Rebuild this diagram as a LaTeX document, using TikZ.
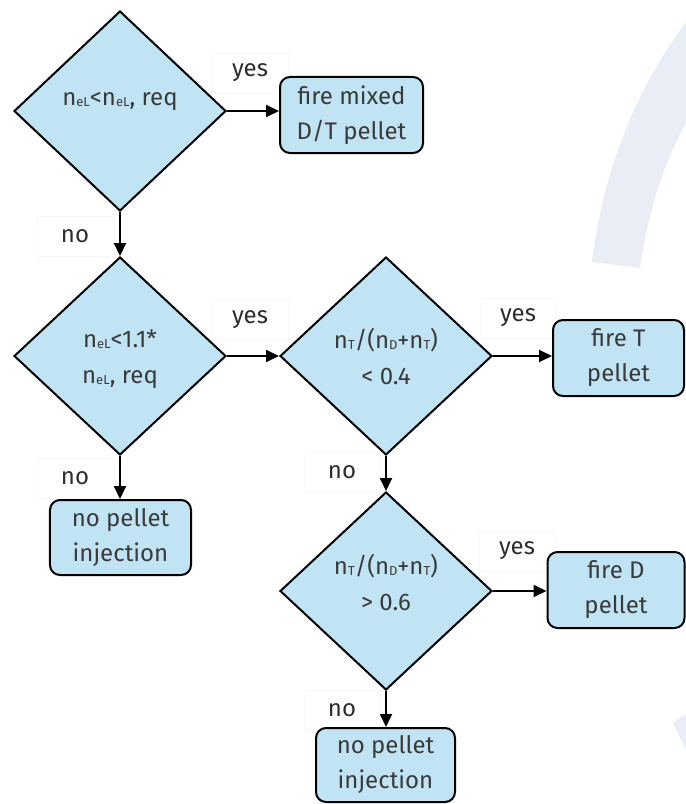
\documentclass[tikz,border=0pt]{standalone}
\usepackage{fontspec}
\setmainfont{Fira Sans}
\usetikzlibrary{shapes.geometric,arrows.meta,calc}
\definecolor{boxfill}{RGB}{193,228,245}
\definecolor{txt}{RGB}{58,58,58}
\definecolor{lbltxt}{RGB}{45,45,45}
\definecolor{wmark}{RGB}{233,237,246}
\definecolor{lblframe}{RGB}{248,248,248}
% small subscript letters sitting on the baseline
\newcommand{\subl}[1]{\raisebox{-1bp}{\fontsize{13bp}{13bp}\selectfont #1}}
\tikzset{
  decision/.style={shape=diamond, draw=black, fill=boxfill, line width=2bp,
    inner sep=0pt, minimum width=212bp, minimum height=198bp},
  dtext/.style={text=txt, align=center, font=\fontsize{24bp}{36bp}\selectfont, inner sep=0pt},
  action/.style={draw=black, fill=boxfill, line width=2bp, rounded corners=10bp,
    align=center, text=txt, font=\fontsize{24bp}{35bp}\selectfont, inner sep=0pt},
  lbl/.style={text=lbltxt, font=\fontsize{24bp}{26bp}\selectfont, draw=lblframe,
    line width=0.8bp, minimum width=76bp, minimum height=40bp, inner sep=0pt},
  flow/.style={draw=black, line width=2bp, -{Triangle[length=13bp,width=12bp]}}
}
\begin{document}
\begin{tikzpicture}[x=1bp,y=-1bp]
\useasboundingbox (0,0) rectangle (686,804);
% faint background shapes
\fill[wmark] (592,262) .. controls (603,175) and (632,95) .. (686,22)
  -- (686,123) .. controls (664,162) and (648,212) .. (640,268) -- cycle;
\fill[wmark] (673,723) -- (686,714) -- (686,750) -- cycle;

% branch labels (their light frames sit underneath the shapes)
\node[lbl] (y1) at (250,73) {yes};
\node[lbl] (n1) at (75,236) {no};
\node[lbl] (y2) at (250,320) {yes};
\node[lbl] (n2) at (75,478) {no};
\node[lbl] (y3) at (518,318) {yes};
\node[lbl] (n3) at (342,472) {no};
\node[lbl] (y4) at (517,551) {yes};
\node[lbl] (n4) at (342,710) {no};

% decisions
\node[decision, minimum height=200bp] (d1) at (120,111) {};
\node[decision] (d2) at (120,356) {};
\node[decision] (d3) at (386,356) {};
\node[decision] (d4) at (386,591) {};
\node[dtext] (t1) at (120,101) {n\subl{eL}<n\subl{eL}, req};
\node[dtext] (t2) at (120,359) {n\subl{eL}<1.1*\\n\subl{eL}, req};
\node[dtext] (t3) at (386,356) {n\subl{T}/(n\subl{D}+n\subl{T})\\< 0.4};
\node[dtext] (t4) at (386,582) {n\subl{T}/(n\subl{D}+n\subl{T})\\> 0.6};

% actions
\node[action, minimum width=143bp, minimum height=76bp] (b1) at (351.5,115) {fire mixed\\D/T pellet};
\node[action, minimum width=141bp, minimum height=75bp] (b2) at (120.5,537.5) {no pellet\\injection};
\node[action, minimum width=131bp, minimum height=76bp] (b3) at (618.5,358) {fire T\\pellet};
\node[action, minimum width=137bp, minimum height=76bp] (b4) at (616,590) {fire D\\pellet};
\node[action, minimum width=139bp, minimum height=74bp] (b5) at (385.5,765) {no pellet\\injection};

% connectors
\draw[flow] (d1.east) -- (d1.east -| b1.west);
\draw[flow] (d1.south) -- (d2.north);
\draw[flow] (d2.east) -- (d3.west);
\draw[flow] (d2.south) -- (d2.south |- b2.north);
\draw[flow] (d3.east) -- (d3.east -| b3.west);
\draw[flow] (d3.south) -- (d4.north);
\draw[flow] (d4.east) -- (d4.east -| b4.west);
\draw[flow] (d4.south) -- (d4.south |- b5.north);
\end{tikzpicture}
\end{document}
